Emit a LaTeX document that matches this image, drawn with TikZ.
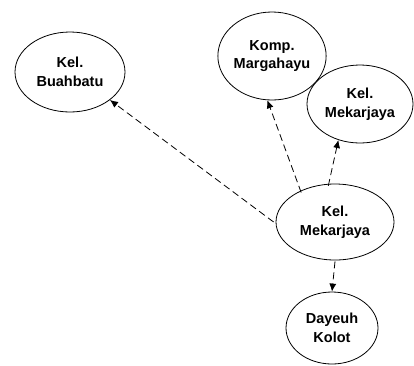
\documentclass[tikz,border=0pt]{standalone}
\usepackage{fontspec}
\setmainfont{Liberation Sans}
\usetikzlibrary{shapes.geometric,arrows.meta}

\tikzset{
  place/.style={draw, thick, ellipse, inner sep=0pt, align=center,
    font=\bfseries\fontsize{14.5}{18.5}\selectfont},
  link/.style={thick, dash pattern=on 7pt off 4pt, -{Latex[length=8pt,width=7pt]}}
}

\begin{document}
\begin{tikzpicture}[x=1pt, y=-1pt]
			\useasboundingbox (0,0) rectangle (414,365);

			% the places
			\node[place, minimum width=110pt, minimum height=80pt] (buah) at (70,72) {Kel.\\Buahbatu};
			\node[place, minimum width=100pt, minimum height=88pt] (marga) at (272,56) {Komp.\\Margahayu};
			\node[place, minimum width=106pt, minimum height=78pt] (mekar) at (360,104) {Kel.\\Mekarjaya};
			\node[place, minimum width=118pt, minimum height=76pt] (pusat) at (335,222) {Kel.\\Mekarjaya};
			\node[place, minimum width=92pt, minimum height=72pt] (dayeuh) at (332,328) {Dayeuh\\Kolot};

			% the links out of the middle place
			\draw[link] ([xshift=-2pt]pusat.west) -- (buah.-35);
			\draw[link] ([yshift=-2pt]pusat.137) -- (marga.264);
			\draw[link] ([yshift=-2pt]pusat.100) -- (mekar.-121);
			\draw[link] ([yshift=-1pt]pusat.south) -- (dayeuh.north);

		\end{tikzpicture}
\end{document}
